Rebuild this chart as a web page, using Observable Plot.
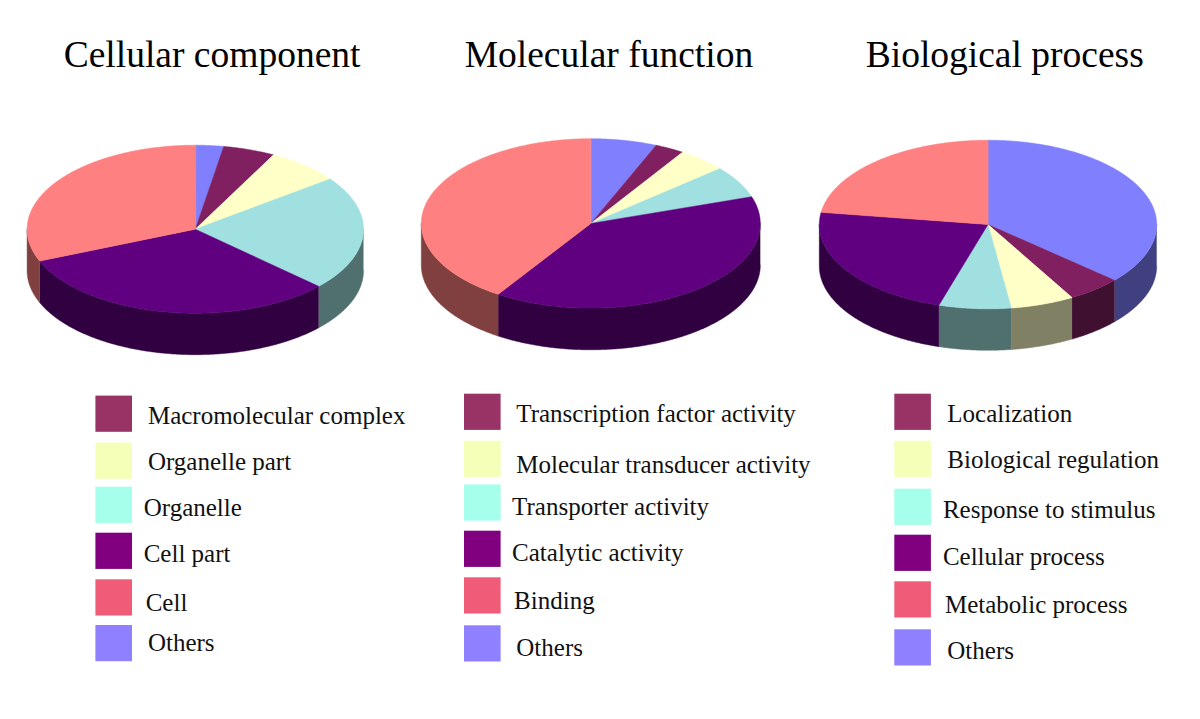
<!DOCTYPE html>
<html>
<head>
<meta charset="utf-8">
<title>Gene ontology pies</title>
<script src="https://cdn.jsdelivr.net/npm/d3@7"></script>
<script src="https://cdn.jsdelivr.net/npm/@observablehq/plot@0.6"></script>
<style>
  html, body { margin: 0; padding: 0; background: #fff; }
  svg { display: block; }
</style>
</head>
<body>
<div id="chart"></div>
<script>
// ---- Data (percent, clockwise from 12 o'clock) ----
const titles = ["Cellular component", "Molecular function", "Biological process"];

const cellularLabels = ["Others", "Macromolecular complex", "Organelle part", "Organelle", "Cell part", "Cell"];
const cellularValues = [2.7, 5.0, 7.1, 22.1, 31.9, 31.2];

const molecularLabels = ["Others", "Transcription factor activity", "Molecular transducer activity", "Transporter activity", "Catalytic activity", "Binding"];
const molecularValues = [6.3, 2.8, 4.7, 6.1, 39.3, 40.8];

const biologicalLabels = ["Others", "Localization", "Biological regulation", "Response to stimulus", "Cellular process", "Metabolic process"];
const biologicalValues = [36.5, 5.2, 6.1, 6.9, 22.6, 22.7];

// ---- Styles ----
const topColors  = ["#8080ff", "#802060", "#ffffc8", "#a0e0e0", "#600080", "#ff8080"];
const sideColors = ["#404080", "#401030", "#808064", "#507070", "#300040", "#804040"];
const keyColors  = ["#8f80ff", "#993366", "#f5ffb8", "#a5ffea", "#800080", "#f05c78"];

// ---- Layout ----
const pieLayout = [
  {cx: 194.8, cy: 228.7, rx: 168.2, ry: 84.0, depth: 41.5},
  {cx: 590.3, cy: 222.9, rx: 169.5, ry: 84.7, depth: 41.7},
  {cx: 987.5, cy: 224.0, rx: 168.7, ry: 84.3, depth: 41.5}
];
const titleX = [63.2, 464.2, 865.2];
const titleBaseline = 66.7;
const keySize = {w: 36.6, h: 36.2};
const keyX = [95.4, 464, 894.3];
// rows listed top to bottom: slice indices 1,2,3,4,5,0
const keyOrder = [1, 2, 3, 4, 5, 0];
const keyTops = [
  [395.6, 442.6, 486.7, 532.7, 579.3, 625],
  [393.7, 440.7, 484.4, 530.7, 577.3, 625.3],
  [393.7, 440.7, 488.7, 534.7, 581.3, 629.3]
];
const labelX = [
  [147.4, 147.4, 143.2, 143.2, 145.2, 147.4],
  [515.8, 515.8, 511.6, 511.6, 513.6, 515.8],
  [946.8, 946.8, 942.4, 942.4, 944.4, 946.8]
];
const labelBaselines = [
  [423.3, 469.5, 515.7, 561.7, 610.7, 650.7],
  [421.2, 472.3, 514.3, 560.3, 608.3, 655],
  [421.7, 467.7, 517.3, 564.6, 612.7, 658.3]
];

const series = [
  {labels: cellularLabels, values: cellularValues},
  {labels: molecularLabels, values: molecularValues},
  {labels: biologicalLabels, values: biologicalValues}
];

// ---- Build the pie outlines from the values ----
const rad = Math.PI / 180;
const pt = (g, deg, drop = 0) => ({
  px: g.cx + g.rx * Math.sin(deg * rad),
  py: g.cy - g.ry * Math.cos(deg * rad) + drop
});
function arc(a0, a1) {
  const n = Math.max(2, Math.ceil(Math.abs(a1 - a0) / 0.5));
  return d3.range(n + 1).map(i => a0 + (a1 - a0) * i / n);
}

const topPts = [], sidePts = [], keyRows = [], labelRows = [];
series.forEach((s, p) => {
  const g = pieLayout[p];
  const total = d3.sum(s.values);
  let acc = 0;
  s.values.forEach((v, i) => {
    const a0 = acc / total * 360;
    acc += v;
    const a1 = acc / total * 360;
    const key = `${p}-${i}`;
    const ring = [{px: g.cx, py: g.cy}, ...arc(a0, a1).map(a => pt(g, a))];
    ring.forEach(d => topPts.push({...d, key, fill: topColors[i]}));
    const s0 = Math.max(a0, 90), s1 = Math.min(a1, 270);
    if (s1 > s0) {
      const upper = arc(s0, s1).map(a => pt(g, a));
      const lower = arc(s1, s0).map(a => pt(g, a, g.depth));
      [...upper, ...lower].forEach(d => sidePts.push({...d, key, fill: sideColors[i]}));
    }
  });
  keyOrder.forEach((idx, r) => {
    keyRows.push({x1: keyX[p], x2: keyX[p] + keySize.w, y1: keyTops[p][r], y2: keyTops[p][r] + keySize.h, fill: keyColors[idx]});
    labelRows.push({x: labelX[p][r], y: labelBaselines[p][r], text: s.labels[idx]});
  });
});
const titleRows = titles.map((t, i) => ({x: titleX[i], y: titleBaseline, text: t}));

const serif = "'Liberation Serif', 'Times New Roman', serif";

const chart = Plot.plot({
  width: 1200,
  height: 719,
  margin: 0,
  style: {background: "#fff"},
  x: {type: "linear", domain: [0, 1200], range: [0, 1200], axis: null},
  y: {type: "linear", domain: [0, 719], range: [0, 719], axis: null},
  color: {type: "identity"},
  marks: [
    Plot.line(sidePts, {x: "px", y: "py", z: "key", fill: "fill", stroke: "fill", strokeWidth: 0.5, curve: "linear"}),
    Plot.line(topPts, {x: "px", y: "py", z: "key", fill: "fill", stroke: "fill", strokeWidth: 0.5, curve: "linear-closed"}),
    Plot.rect(keyRows, {x1: "x1", x2: "x2", y1: "y1", y2: "y2", fill: "fill"}),
    Plot.text(labelRows, {x: "x", y: "y", text: "text", textAnchor: "start", lineAnchor: "bottom", fontFamily: serif, fontSize: 25, fill: "#111"}),
    Plot.text(titleRows, {x: "x", y: "y", text: "text", textAnchor: "start", lineAnchor: "bottom", fontFamily: serif, fontSize: 37.5, fill: "#000"})
  ]
});
document.getElementById("chart").appendChild(chart);
</script>
</body>
</html>
